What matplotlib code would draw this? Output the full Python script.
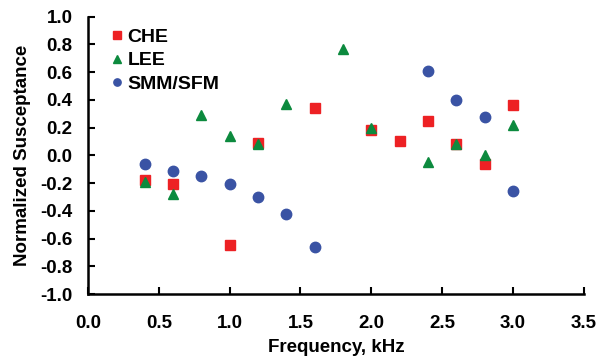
import matplotlib
matplotlib.use("Agg")
import matplotlib.pyplot as plt

plt.rcParams['font.family'] = ['Liberation Sans', 'DejaVu Sans']
plt.rcParams['font.weight'] = 'bold'

che_x = [0.4, 0.6, 1.0, 1.2, 1.6, 2.0, 2.2, 2.4, 2.6, 2.8, 3.0]
che_y = [-0.18, -0.21, -0.65, 0.09, 0.34, 0.18, 0.10, 0.25, 0.08, -0.06, 0.36]
lee_x = [0.4, 0.6, 0.8, 1.0, 1.2, 1.4, 1.8, 2.0, 2.4, 2.6, 2.8, 3.0]
lee_y = [-0.19, -0.28, 0.29, 0.14, 0.08, 0.37, 0.77, 0.20, -0.05, 0.08, 0.00, 0.22]
smm_x = [0.4, 0.6, 0.8, 1.0, 1.2, 1.4, 1.6, 2.4, 2.6, 2.8, 3.0]
smm_y = [-0.06, -0.11, -0.15, -0.21, -0.30, -0.42, -0.66, 0.61, 0.40, 0.28, -0.26]

x_ticks = [0.0, 0.5, 1.0, 1.5, 2.0, 2.5, 3.0, 3.5]
y_ticks = [-1.0, -0.8, -0.6, -0.4, -0.2, 0.0, 0.2, 0.4, 0.6, 0.8, 1.0]

fig = plt.figure(figsize=(6.1, 3.63), dpi=100)
ax = fig.add_axes([0.1443, 0.190, 0.8127, 0.764])

ax.plot(che_x, che_y, ls='none', marker='s', ms=7.5, color='#ED2124', mec='#ED2124', label='CHE', zorder=3)
ax.plot(lee_x, lee_y, ls='none', marker='^', ms=7.5, color='#0C8A3E', mec='#0C8A3E', label='LEE', zorder=4)
ax.plot(smm_x, smm_y, ls='none', marker='o', ms=7.5, color='#3A53A4', mec='#3A53A4', label='SMM/SFM', zorder=3)

ax.set_xlim(0, 3.5)
ax.set_ylim(-1.0, 1.0)
ax.set_xticks(x_ticks)
ax.set_yticks(y_ticks)
ax.set_xticklabels([f"{v:.1f}" for v in x_ticks])
ax.set_yticklabels([f"{v:.1f}" for v in y_ticks])
ax.tick_params(direction='in', length=5, width=1.5, labelsize=13.5)
ax.tick_params(axis='x', pad=15)
ax.tick_params(axis='y', pad=11)
for s in ['top', 'right']:
    ax.spines[s].set_visible(False)
for s in ['left', 'bottom']:
    ax.spines[s].set_linewidth(1.8)

ax.set_xlabel('Frequency, kHz', fontsize=13.5, fontweight='bold', labelpad=5)
ax.set_ylabel('Normalized Susceptance', fontsize=13.5, fontweight='bold', labelpad=7)

leg = ax.legend(loc='upper left', frameon=False, fontsize=14, handletextpad=0.15,
                handlelength=0.8, markerscale=0.7, borderaxespad=0.2, labelspacing=0.3,
                bbox_to_anchor=(0.019, 1.0))

fig.savefig('out.png', dpi=100)
